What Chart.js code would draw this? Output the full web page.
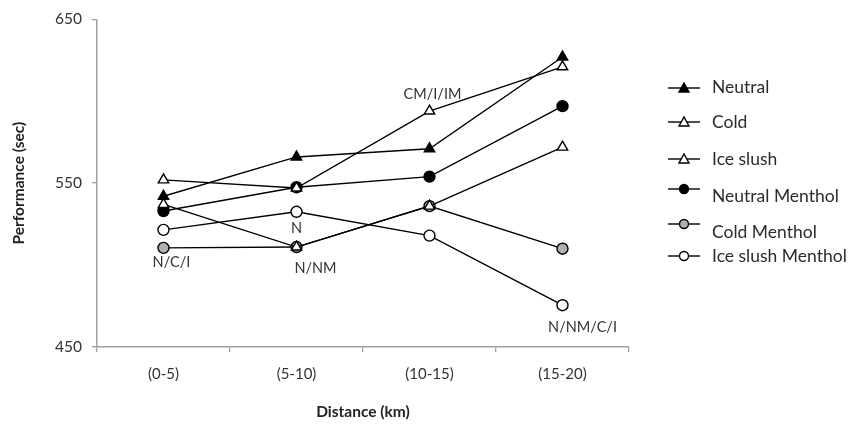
<!DOCTYPE html>
<html>
<head>
<meta charset="utf-8">
<script src="https://cdn.jsdelivr.net/npm/chart.js@4.4.1/dist/chart.umd.min.js"></script>
<style>
  html, body { margin: 0; padding: 0; background: #fff; }
  #wrap { width: 858px; height: 425px; }
</style>
</head>
<body>
<div id="wrap"><canvas id="perf"></canvas></div>
<script>
// values (sec)
const distances = ["(0-5)", "(5-10)", "(10-15)", "(15-20)"];
const neutral = [542, 566, 571, 627];
const cold = [552, 547, 594, 621];
const iceSlush = [537, 511, 536, 572];
const neutralMenthol = [533, 547.5, 554, 597];
const coldMenthol = [510.5, 511, 536, 510];
const iceSlushMenthol = [521.5, 532.5, 518, 475.5];
const yTicks = [450, 550, 650];

// significance notes and the point each one hangs off
const noteText = ["N/C/I", "N", "N/NM", "CM/I/IM", "N/NM/C/I"];
const noteCat = [0, 1, 1, 2, 3];
const noteSeries = [coldMenthol, iceSlushMenthol, coldMenthol, cold, iceSlushMenthol];

const FONT = "Lato, 'Open Sans', sans-serif";

function series(label, values, style, fill) {
  return {
    label: label,
    data: values,
    borderColor: "#000",
    borderWidth: 1.4,
    pointStyle: style,
    pointRadius: style === "triangle" ? 6 : 5.5,
    pointHoverRadius: style === "triangle" ? 6 : 5.5,
    pointBackgroundColor: fill,
    pointBorderColor: "#000",
    pointBorderWidth: 1.4,
    tension: 0,
    fill: false
  };
}

const data = {
  labels: distances,
  datasets: [
    series("Neutral", neutral, "triangle", "#000"),
    series("Cold", cold, "triangle", "#fff"),
    series("Ice slush", iceSlush, "triangle", "#fff"),
    series("Neutral Menthol", neutralMenthol, "circle", "#000"),
    series("Cold Menthol", coldMenthol, "circle", "#b0b0b0"),
    series("Ice slush Menthol", iceSlushMenthol, "circle", "#fff")
  ]
};

// text notes next to the points
const notesPlugin = {
  id: "notes",
  afterDatasetsDraw(chart) {
    const ctx = chart.ctx;
    const xs = chart.scales.x, ys = chart.scales.y;
    const dx = [8, 0, 19, 3, 20];
    const dy = [14, 17, 21, -17, 22];
    ctx.save();
    ctx.font = "14.5px " + FONT;
    ctx.fillStyle = "#333";
    ctx.textAlign = "center";
    ctx.textBaseline = "middle";
    noteText.forEach(function (t, i) {
      const c = noteCat[i];
      const x = xs.getPixelForValue(c) + dx[i];
      const y = ys.getPixelForValue(noteSeries[i][c]) + dy[i];
      ctx.fillText(t, x, y);
    });
    ctx.restore();
  }
};

// legend drawn by hand, the rows are unevenly spaced in the original
const legendPlugin = {
  id: "sideLegend",
  afterDraw(chart) {
    const ctx = chart.ctx;
    const markY = [88, 122, 159, 189, 224, 256];
    const textY = [87, 122, 159, 196, 232, 256];
    ctx.save();
    chart.data.datasets.forEach(function (ds, i) {
      const y = markY[i];
      ctx.strokeStyle = "#000";
      ctx.lineWidth = 1.4;
      ctx.beginPath();
      ctx.moveTo(668, y);
      ctx.lineTo(700, y);
      ctx.stroke();
      ctx.fillStyle = ds.pointBackgroundColor;
      ctx.beginPath();
      if (ds.pointStyle === "triangle") {
        ctx.moveTo(684, y - 5);
        ctx.lineTo(689, y + 4);
        ctx.lineTo(679, y + 4);
        ctx.closePath();
      } else {
        ctx.arc(684, y, 4.5, 0, Math.PI * 2);
      }
      ctx.fill();
      ctx.stroke();
      ctx.font = "17.5px " + FONT;
      ctx.fillStyle = "#2b2b2b";
      ctx.textAlign = "left";
      ctx.textBaseline = "middle";
      ctx.fillText(ds.label, 712, textY[i]);
    });
    ctx.restore();
  }
};

const config = {
  type: "line",
  data: data,
  options: {
    responsive: true,
    maintainAspectRatio: false,
    animation: false,
    layout: { padding: { top: 16, right: 229, left: 0, bottom: 0 } },
    plugins: {
      legend: { display: false },
      tooltip: { enabled: false }
    },
    scales: {
      x: {
        type: "category",
        offset: true,
        grid: {
          offset: true,
          drawOnChartArea: false,
          drawTicks: true,
          tickLength: 5,
          color: "#a0a0a0",
          lineWidth: 1.3
        },
        border: { color: "#a0a0a0", width: 1.5 },
        ticks: {
          color: "#333",
          font: { family: FONT, size: 15 },
          padding: 13
        },
        title: {
          display: true,
          text: "Distance (km)",
          color: "#222",
          font: { family: FONT, size: 15.5, weight: "bold" },
          padding: { top: 10 }
        },
        afterFit(scale) { scale.height = 78; }
      },
      y: {
        min: yTicks[0],
        max: yTicks[yTicks.length - 1],
        afterBuildTicks(scale) {
          scale.ticks = yTicks.map(function (v) { return { value: v }; });
        },
        grid: {
          drawOnChartArea: false,
          drawTicks: true,
          tickLength: 5,
          color: "#a0a0a0",
          lineWidth: 1.3
        },
        border: { color: "#a0a0a0", width: 1.5 },
        ticks: {
          color: "#333",
          font: { family: FONT, size: 15.5 },
          padding: 10
        },
        title: {
          display: true,
          text: "Performance (sec)",
          color: "#222",
          font: { family: FONT, size: 15.5, weight: "bold" },
          padding: { top: 10, bottom: 4 }
        },
        afterFit(scale) { scale.width = 97; }
      }
    }
  },
  plugins: [notesPlugin, legendPlugin]
};

var perf = new Chart(document.getElementById("perf"), config);
</script>
</body>
</html>
